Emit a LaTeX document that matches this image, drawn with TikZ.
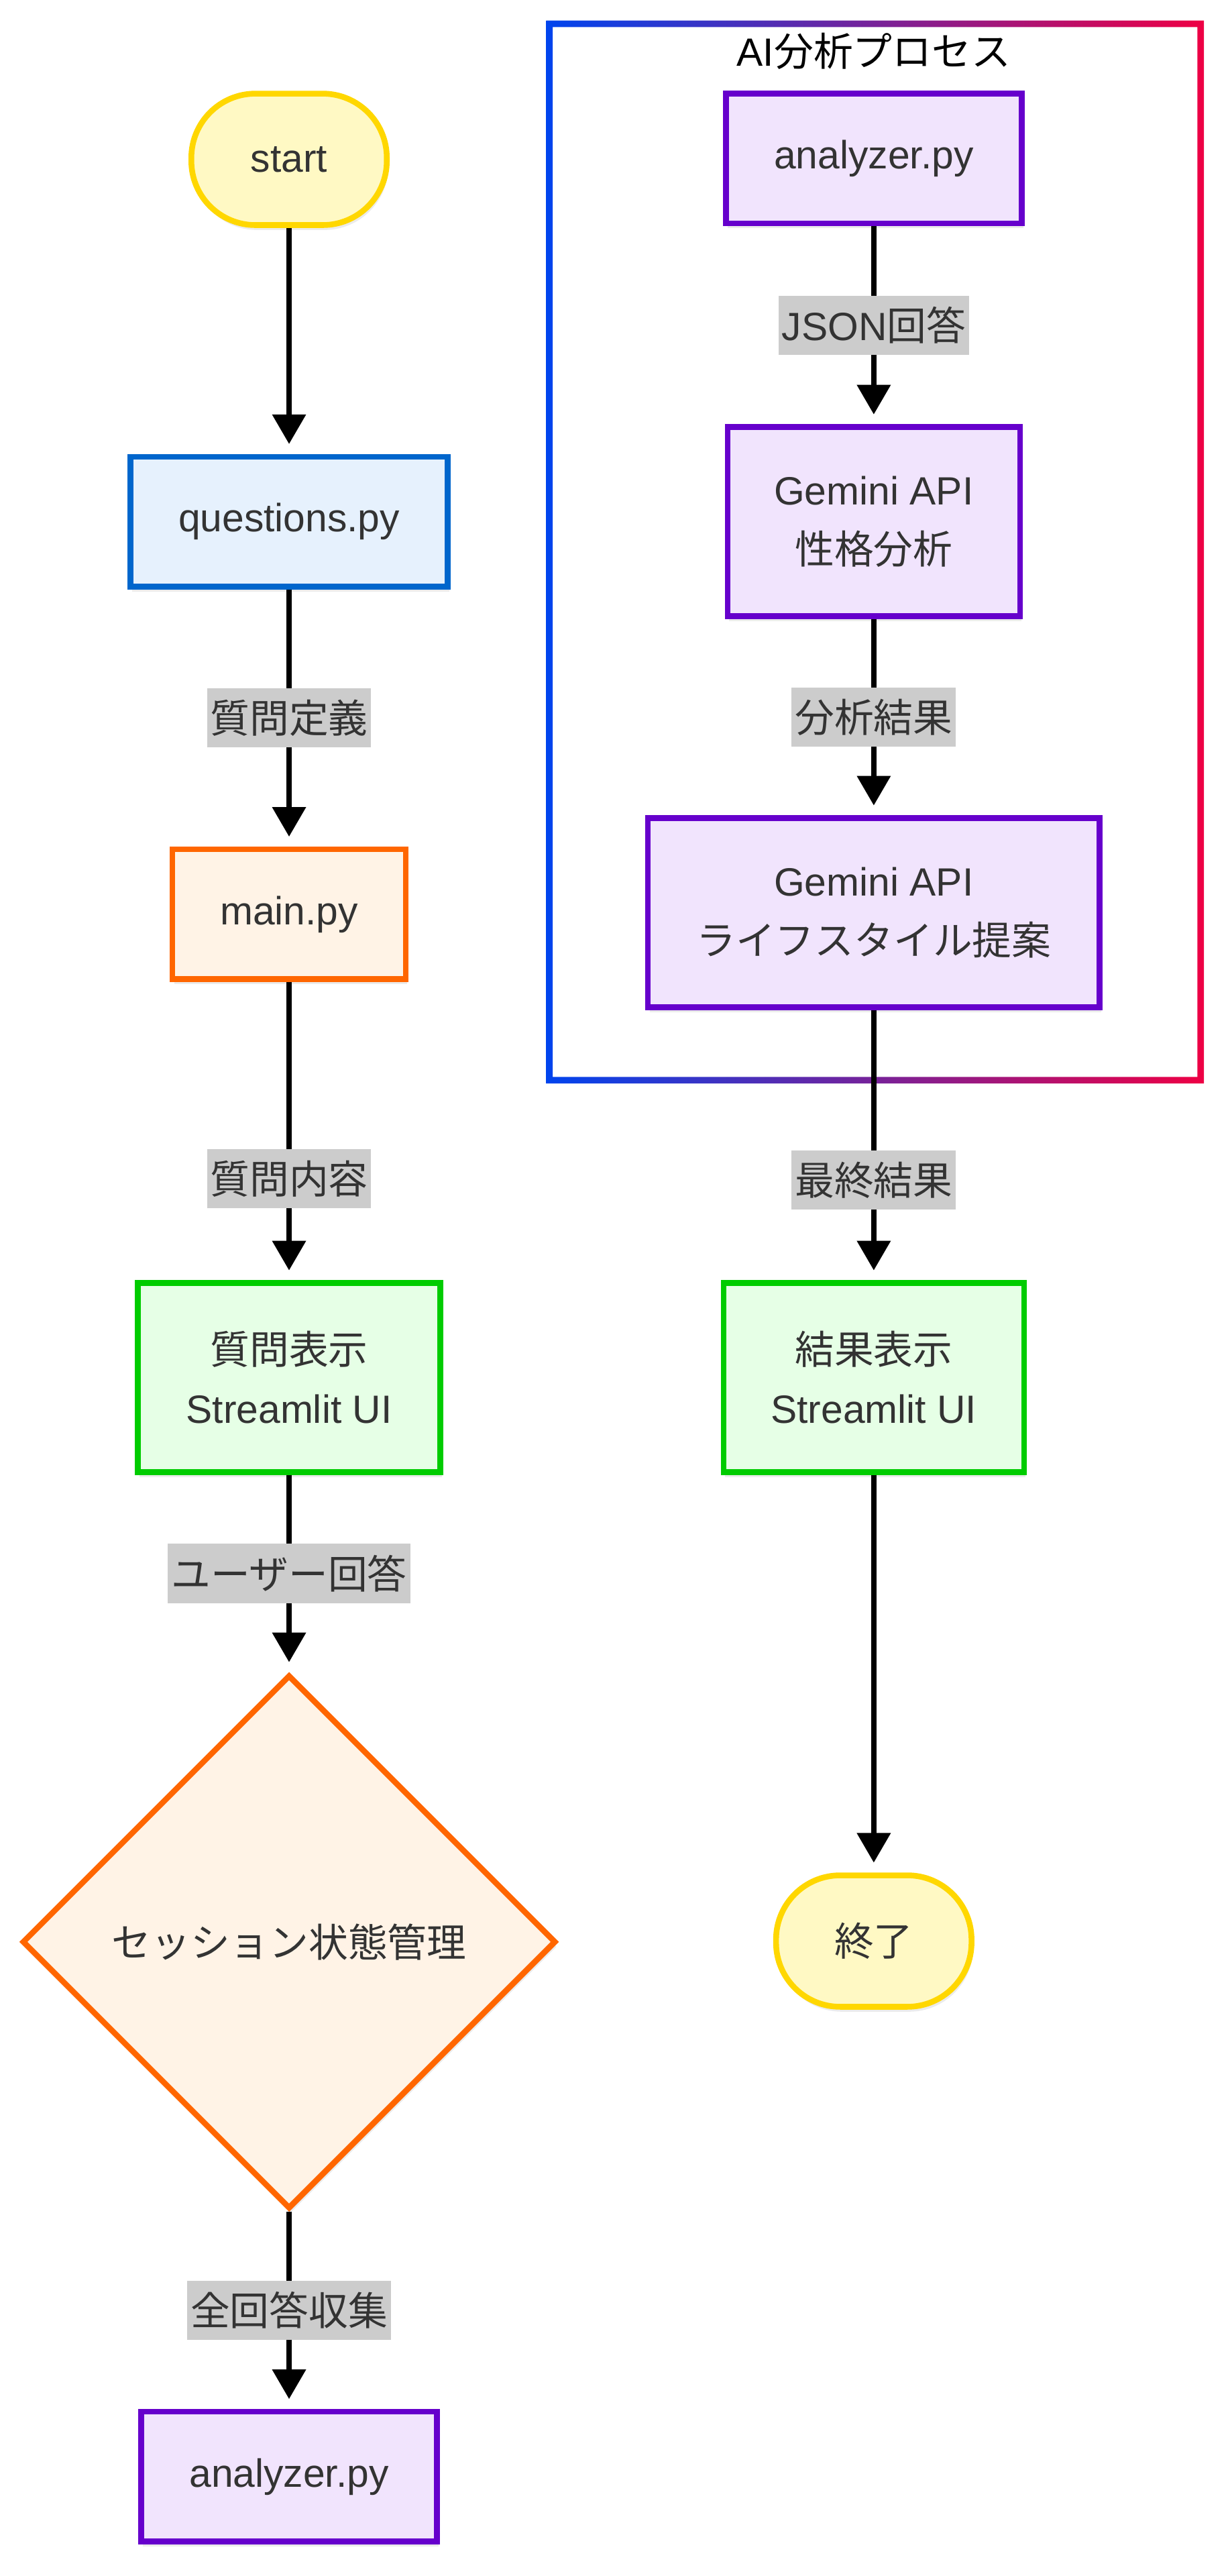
\documentclass[tikz,border=0pt]{standalone}
\usepackage{fontspec}
\setmainfont{Liberation Sans}
\newfontfamily\jpfont{Noto Sans CJK JP}
\newcommand{\jp}[1]{{\jpfont #1}}
\usetikzlibrary{shapes.geometric,arrows.meta,shadows}
\definecolor{txtgray}{HTML}{333333}
\definecolor{termfill}{HTML}{FFF9C4}
\definecolor{termline}{HTML}{FFD700}
\definecolor{qfill}{HTML}{E6F1FD}
\definecolor{qline}{HTML}{0066CC}
\definecolor{mainfill}{HTML}{FFF3E6}
\definecolor{mainline}{HTML}{FF6600}
\definecolor{uifill}{HTML}{E6FFE6}
\definecolor{uiline}{HTML}{00CC00}
\definecolor{aifill}{HTML}{F1E4FD}
\definecolor{ailine}{HTML}{6600CC}
\definecolor{lblfill}{HTML}{CCCCCC}
\definecolor{clblue}{HTML}{0044EE}
\definecolor{clred}{HTML}{EE0044}

\begin{document}
\begin{tikzpicture}[x=1bp,y=-1bp,
  softshadow/.style={drop shadow={shadow xshift=1bp,shadow yshift=-3bp,opacity=.08,fill=black}},
  proc/.style={rectangle,line width=3.5bp,minimum height=79bp,softshadow},
  ai/.style={fill=aifill,draw=ailine},
  ui/.style={fill=uifill,draw=uiline,minimum height=115bp},
  term/.style={rectangle,rounded corners=39bp,fill=termfill,draw=termline,line width=3.5bp,minimum width=119bp,minimum height=80bp,softshadow},
  decide/.style={diamond,aspect=1,fill=mainfill,draw=mainline,line width=3.5bp,minimum size=325bp,inner sep=0pt,softshadow},
  lbl/.style={fill=lblfill,inner xsep=2bp,inner ysep=0pt,minimum height=36bp},
  flow/.style={line width=3bp,-{Triangle[length=18bp,width=20bp]},shorten >=6bp}]
\tikzstyle{every node}+=[font=\fontsize{24bp}{36bp}\selectfont,text=txtgray,align=center]
\useasboundingbox (0,0) rectangle (748.5,1568);
% cluster
\shade[left color=clblue,right color=clred,even odd rule] (332.5,12.5) rectangle (733,659.5) (336.5,16.5) rectangle (729,655.5);
\node[text=black] (aititle) at (532,31) {AI\jp{分析プロセス}};
% left column
\node[term] (start) at (176,97) {start};
\node[proc,fill=qfill,draw=qline,minimum width=193bp] (quest) at (176,317.5) {questions.py};
\node[proc,fill=mainfill,draw=mainline,minimum width=142bp] (mainpy) at (176,556.5) {main.py};
\node[proc,ui,minimum width=184bp] (qshow) at (176,838.5) {\jp{質問表示}\\Streamlit UI};
\node[decide] (session) at (176,1182) {\jp{セッション状態管理}};
\node[proc,ai,minimum width=180bp] (anaL) at (176,1507.5) {analyzer.py};
% right column
\node[proc,ai,minimum width=180bp] (anaR) at (532,96.5) {analyzer.py};
\node[proc,ai,minimum width=178bp,minimum height=115bp] (gemA) at (532,317.5) {Gemini API\\\jp{性格分析}};
\node[proc,ai,minimum width=275bp,minimum height=115bp] (gemB) at (532,555.5) {Gemini API\\\jp{ライフスタイル提案}};
\node[proc,ui,minimum width=183bp] (rshow) at (532,838.5) {\jp{結果表示}\\Streamlit UI};
\node[term] (stop) at (532,1181.5) {\jp{終了}};
% edges
\draw[flow] (start) -- (quest);
\draw[flow] (quest) -- node[lbl] (l1) {\jp{質問定義}} (mainpy);
\draw[flow] (mainpy) -- node[lbl,pos=.66] (l2) {\jp{質問内容}} (qshow);
\draw[flow] (qshow) -- node[lbl] (l3) {\jp{ユーザー回答}} (session);
\draw[flow] (session) -- node[lbl] (l4) {\jp{全回答収集}} (anaL);
\draw[flow] (anaR) -- node[lbl] (l5) {JSON\jp{回答}} (gemA);
\draw[flow] (gemA) -- node[lbl] (l6) {\jp{分析結果}} (gemB);
\draw[flow] (gemB) -- node[lbl,pos=.63] (l7) {\jp{最終結果}} (rshow);
\draw[flow] (rshow) -- (stop);
\end{tikzpicture}
\end{document}
